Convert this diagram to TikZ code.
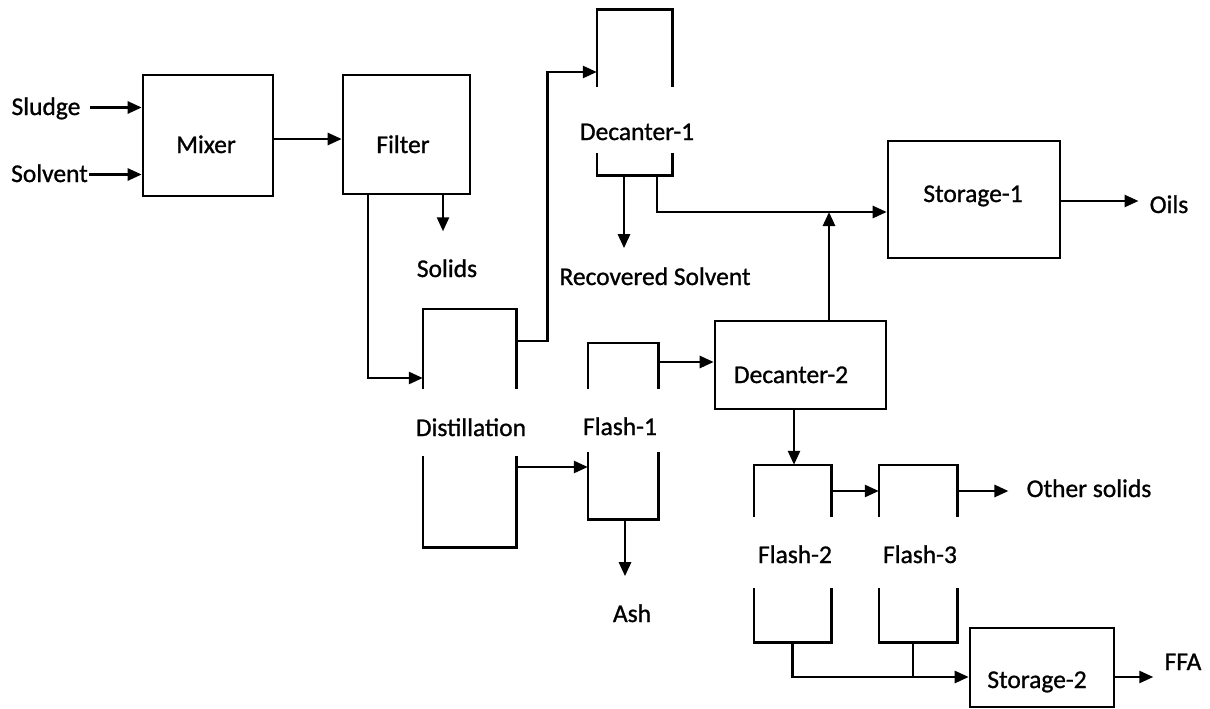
\documentclass[tikz,border=0pt]{standalone}
\usepackage{fontspec}
\setmainfont{Carlito}
\newfontfamily\lblfont{Carlito}[FakeBold=1]
\usetikzlibrary{arrows.meta}
\newcommand\drawvessel[3]{%
  \draw[box] ([yshift=-#2]#1.north west) |- (#1.north east) -- ([yshift=-#2]#1.north east);
  \draw[box] ([yshift=#3]#1.south west) |- (#1.south east) -- ([yshift=#3]#1.south east);}
\tikzset{
  box/.style={draw=black, line width=2.6pt, line join=miter},
  unit/.style={box, rectangle, inner sep=0pt},
  vessel/.style={rectangle, draw=none, inner sep=0pt},
  txt/.style={font=\lblfont\fontsize{25.5}{30}\selectfont, text height=15pt, text depth=0pt, inner sep=1pt},
  flow/.style={line width=2.6pt, -{Triangle[length=14pt,width=12pt]}},
  pipe/.style={line width=2.6pt},
}
\begin{document}
\begin{tikzpicture}[x=1pt,y=-1pt]
\useasboundingbox (0,0) rectangle (1210,709);
% process units (boxes)
\node[unit, minimum width=130pt, minimum height=121pt] (mixer) at (208,135.5) {};
\node[unit, minimum width=127pt, minimum height=119pt] (filter) at (406.5,134.5) {};
\node[unit, minimum width=172pt, minimum height=117pt] (st1) at (974,199.5) {};
\node[unit, minimum width=171pt, minimum height=88pt] (dec2) at (800.5,365) {};
\node[unit, minimum width=144pt, minimum height=79pt] (st2) at (1042,667.5) {};
% vessels (open columns)
\node[vessel, minimum width=93pt, minimum height=238pt] (dist) at (469.5,428) {};
\node[vessel, minimum width=75pt, minimum height=165pt] (dec1) at (634.5,92.5) {};
\node[vessel, minimum width=70pt, minimum height=176pt] (fl1) at (623,431) {};
\node[vessel, minimum width=77pt, minimum height=177pt] (fl2) at (792.5,553.5) {};
\node[vessel, minimum width=78pt, minimum height=177pt] (fl3) at (918,553.5) {};
\drawvessel{dist}{80pt}{91pt}
\drawvessel{dec1}{77pt}{22pt}
\drawvessel{fl1}{46pt}{67pt}
\drawvessel{fl2}{52pt}{54pt}
\drawvessel{fl3}{52pt}{54pt}
% labels
\node[txt] (mixerl) at (206,145.5) {Mixer};
\node[txt] (filterl) at (403,145.5) {Filter};
\node[txt] (st1l) at (973,194.5) {Storage-1};
\node[txt] (dec2l) at (791,375.5) {Decanter-2};
\node[txt] (st2l) at (1037,680.5) {Storage-2};
\node[txt] (distl) at (471,428.5) {Distillation};
\node[txt] (dec1l) at (637,132.5) {Decanter-1};
\node[txt] (fl1l) at (620,427.5) {Flash-1};
\node[txt] (fl2l) at (795,555.5) {Flash-2};
\node[txt] (fl3l) at (920,555.5) {Flash-3};
% stream texts
\node[txt] (sludge) at (46,107.5) {Sludge};
\node[txt] (solvent) at (49.5,174.5) {Solvent};
\node[txt] (solids) at (447,269.5) {Solids};
\node[txt] (recsolv) at (655,277.5) {Recovered Solvent};
\node[txt] (oils) at (1169,205.5) {Oils};
\node[txt] (ash) at (632,614.5) {Ash};
\node[txt] (other) at (1089,489.5) {Other solids};
\node[txt] (ffa) at (1183,662.5) {FFA};
% ports
\coordinate (st1in) at ([yshift=-12.5pt]st1.west);
\coordinate (dec2up) at ([xshift=28.5pt]dec2.north);
\coordinate (st2in) at ([yshift=-9.5pt]st2.west);
% connectors
\draw[flow, shorten <=8pt] (sludge.east) -- (sludge.east -| mixer.west);
\draw[flow] (solvent.east) -- (solvent.east -| mixer.west);
\draw[flow] ([yshift=-3.5pt]mixer.east) -- ([yshift=-3.5pt]mixer.east -| filter.west);
\draw[flow] ([xshift=36.5pt]filter.south) -- ++(0,36);
\draw[flow] ([xshift=-38.5pt]filter.south) |- ([yshift=50pt]dist.west);
\draw[flow] ([yshift=87pt]dist.east) -- ++(31,0) |- ([yshift=20.5pt]dec1.west);
\draw[flow] ([yshift=-39pt]dist.east) -- ([yshift=-39pt]dist.east -| fl1.west);
\draw[flow] ([yshift=69pt]fl1.east) -- ([yshift=69pt]fl1.east -| dec2.west);
\draw[flow] ([xshift=2pt]fl1.south) -- ++(0,57);
\draw[flow] ([xshift=-10.5pt]dec1.south) -- ++(0,73);
\draw[flow] ([xshift=22.5pt]dec1.south) |- (st1in);
\draw[flow] (dec2up) -- (dec2up |- st1in);
\draw[flow, shorten >=10pt] ([yshift=-1.5pt]st1.east) -- ([yshift=-1.5pt]st1.east -| oils.west);
\draw[flow] ([xshift=-6.5pt]dec2.south) -- ([xshift=-6.5pt]dec2.south |- fl2.north);
\draw[flow] ([yshift=62.5pt]fl2.east) -- ([yshift=62.5pt]fl2.east -| fl3.west);
\draw[flow, shorten >=17pt] ([yshift=62.5pt]fl3.east) -- ([yshift=62.5pt]fl3.east -| other.west);
\draw[flow] (fl2.south) |- (st2in);
\draw[pipe] ([xshift=-5pt]fl3.south) -- ([xshift=-5pt]fl3.south |- st2in);
\draw[flow] (st2in -| st2.east) -- ++(38,0);
\end{tikzpicture}
\end{document}
